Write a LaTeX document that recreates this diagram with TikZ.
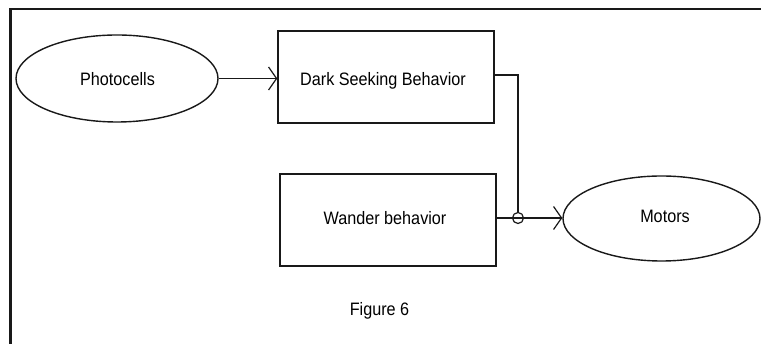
\documentclass[tikz,border=0pt]{standalone}
\usepackage{fontspec}
\setmainfont{Liberation Sans}[FakeStretch=0.9]
\usetikzlibrary{arrows.meta,shapes.geometric}
\definecolor{ink}{gray}{0.1}
\tikzset{
  every node/.style={font=\fontsize{18}{20}\selectfont, text=black},
  blob/.style={draw=ink, line width=1.4pt, ellipse, inner sep=0pt},
  boxnode/.style={draw=ink, line width=1.4pt, rectangle, inner sep=0pt},
  wire/.style={draw=ink, line width=1.4pt},
  flow/.style={wire, -{Straight Barb[length=8pt,width=23pt,line width=1.2pt]}},
  joint/.style={draw=ink, line width=1.2pt, circle, inner sep=0pt, minimum size=11pt}
}
\begin{document}
\begin{tikzpicture}[x=1pt, y=-1pt]
  \useasboundingbox (0,0) rectangle (761,344);
  \fill[white] (0,0) rectangle (761,344);
  % frame (only its top and left edges fall inside the page)
  \draw[ink, line width=2.6pt] (10.3,344) -- (10.3,9) -- (761,9);

  % sources, behaviours and motors
  \node[blob, minimum width=202pt, minimum height=87pt] (photo) at (117,78.5) {};
  \node (photot) at (117.5,79) {Photocells};
  \node[boxnode, minimum width=216pt, minimum height=92pt] (dsb) at (386,77) {};
  \node (dsbt) at (383,81) {Dark Seeking Behavior};
  \node[boxnode, minimum width=216pt, minimum height=92pt] (wander) at (388,220) {};
  \node (wandert) at (385,218) {Wander behavior};
  \node[blob, minimum width=197pt, minimum height=85pt] (motors) at (661.5,218.5) {};
  \node (motorst) at (665,216.5) {Motors};
  \node (fig) at (379.5,311) {Figure 6};

  % connectors
  \draw[flow] (photo.east) -- (dsb.west |- photo.east);
  \draw[flow] (wander.east |- 0,218) -- (motors.west |- 0,218);
  \node[joint] (jn) at (518,218) {};
  \draw[wire] (dsb.east |- 0,75) -| (jn.north);
\end{tikzpicture}
\end{document}
